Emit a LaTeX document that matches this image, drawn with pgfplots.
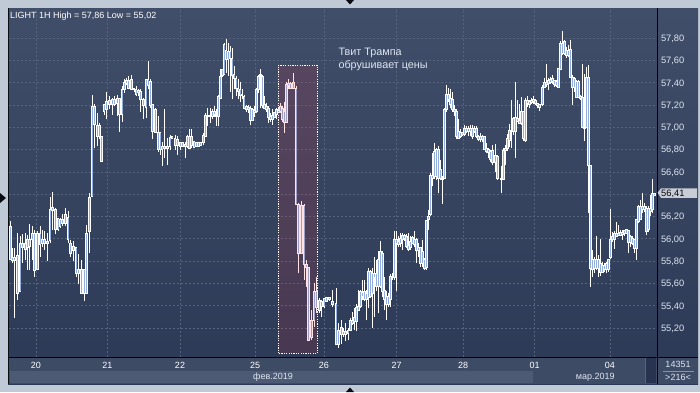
\documentclass[border=0pt]{standalone}
\usepackage{pgfplots}
\pgfplotsset{compat=1.18}
\usepackage{pgfplotstable}
\usepackage{fontspec}
\setmainfont{Liberation Sans}
\definecolor{frame}{HTML}{C0CAD7}
\definecolor{bgtop}{HTML}{414E69}
\definecolor{bgbot}{HTML}{2B3956}
\definecolor{gridc}{HTML}{56637D}
\definecolor{datestrip}{HTML}{3E4B65}
\definecolor{monthA}{HTML}{4C5A74}
\definecolor{bodyc}{HTML}{93AEDB}
\definecolor{labc}{HTML}{DCE5F1}
\definecolor{hl}{RGB}{255,43,47}
\definecolor{pricebox}{HTML}{C8CCD4}
\definecolor{darkbox}{HTML}{283350}

\pgfplotstableread{
x l h bl bh
10.7 55.81 56.16 55.81 56.11
12.7 55.78 55.92 55.80 55.83
14.7 55.29 55.92 55.80 55.83
17.3 55.45 56.05 55.51 55.85
20.0 55.53 56.02 55.53 55.96
22.7 55.78 56.04 55.92 55.96
25.3 55.81 56.05 55.90 55.96
27.3 55.72 56.03 55.92 55.99
29.3 55.72 56.13 55.93 55.99
32.0 55.81 56.11 55.99 56.05
34.7 55.66 56.08 55.71 56.05
37.3 55.72 56.07 55.72 56.05
40.0 55.84 56.11 55.95 56.05
42.7 55.93 56.08 55.96 55.99
44.7 55.90 56.07 55.96 55.99
47.3 55.80 56.05 55.96 55.98
50.0 55.96 56.37 55.98 56.26
52.7 56.08 56.42 56.25 56.28
55.3 56.04 56.28 56.08 56.26
58.0 56.07 56.18 56.08 56.18
60.0 56.10 56.19 56.11 56.17
62.7 56.11 56.22 56.14 56.17
65.3 56.11 56.28 56.14 56.22
68.0 55.96 56.25 55.99 56.19
70.7 55.84 55.99 55.87 55.96
73.3 55.80 55.98 55.89 55.93
76.0 55.66 55.93 55.69 55.92
78.7 55.59 55.86 55.69 55.72
81.3 55.51 55.81 55.51 55.72
84.0 55.44 55.72 55.51 55.72
86.7 55.51 56.12 55.51 56.05
89.3 55.87 56.41 56.06 56.37
92.0 56.37 57.29 56.38 57.19
94.7 56.81 57.21 57.02 57.19
97.3 56.83 57.13 56.92 57.02
99.5 56.89 57.04 56.92 57.02
101.5 56.69 56.92 56.69 56.92
104.0 57.11 57.20 57.14 57.20
106.7 57.07 57.32 57.16 57.23
109.3 57.16 57.28 57.20 57.24
112.0 57.11 57.26 57.20 57.25
114.7 57.19 57.28 57.20 57.25
117.3 57.10 57.29 57.21 57.26
119.3 56.96 57.26 57.11 57.26
122.0 57.05 57.37 57.11 57.34
124.7 57.31 57.43 57.34 57.40
126.7 57.38 57.44 57.39 57.42
128.7 57.34 57.46 57.35 57.42
131.3 57.34 57.47 57.34 57.43
134.0 57.32 57.35 57.34 57.35
136.0 57.28 57.37 57.29 57.34
138.7 57.28 57.34 57.31 57.33
140.7 57.14 57.34 57.25 57.32
143.3 57.07 57.26 57.19 57.25
146.0 57.08 57.43 57.18 57.43
148.0 57.34 57.59 57.37 57.43
150.7 57.17 57.43 57.19 57.41
152.7 56.89 57.20 56.96 57.20
155.3 56.95 57.17 56.95 57.16
158.0 56.78 57.10 56.80 56.95
160.0 56.75 56.96 56.80 56.95
162.0 56.65 56.87 56.80 56.83
164.7 56.72 57.16 56.81 56.83
167.3 56.66 56.90 56.81 56.83
170.0 56.80 56.93 56.83 56.91
172.0 56.89 56.92 56.90 56.92
175.0 56.80 56.93 56.84 56.90
177.3 56.75 56.92 56.84 56.89
180.0 56.80 56.86 56.83 56.86
182.7 56.82 56.86 56.83 56.86
185.0 56.72 56.87 56.83 56.85
187.3 56.81 56.93 56.83 56.92
189.3 56.81 56.98 56.81 56.92
191.3 56.81 56.98 56.84 56.92
194.0 56.81 56.87 56.82 56.87
196.0 56.82 56.86 56.83 56.86
198.7 56.83 56.86 56.83 56.86
200.7 56.84 56.86 56.84 56.86
203.3 56.84 56.95 56.86 56.93
205.3 56.91 57.13 56.92 57.11
207.3 57.01 57.17 57.10 57.11
210.0 57.04 57.17 57.10 57.11
212.7 57.07 57.16 57.10 57.14
214.7 57.09 57.19 57.11 57.14
216.7 57.01 57.16 57.10 57.11
218.7 57.01 57.29 57.10 57.28
220.7 57.26 57.52 57.26 57.46
222.7 57.45 57.52 57.46 57.52
224.0 57.47 57.76 57.47 57.74
226.0 57.49 57.79 57.61 57.69
228.0 57.46 57.76 57.61 57.68
230.0 57.32 57.73 57.62 57.68
232.0 57.25 57.71 57.46 57.62
234.0 57.34 57.55 57.44 57.47
236.0 57.28 57.46 57.35 57.44
238.0 57.25 57.43 57.32 57.35
240.0 57.23 57.41 57.28 57.34
242.0 57.25 57.34 57.28 57.29
244.0 57.16 57.29 57.17 57.28
246.7 57.14 57.20 57.16 57.19
248.7 57.13 57.20 57.16 57.18
250.7 57.02 57.19 57.06 57.17
252.7 57.06 57.17 57.06 57.16
254.7 57.09 57.19 57.13 57.15
256.7 57.13 57.35 57.14 57.34
258.7 57.31 57.47 57.34 57.46
260.7 57.17 57.52 57.46 57.47
262.7 57.17 57.47 57.19 57.46
264.7 57.16 57.28 57.17 57.20
266.7 57.14 57.22 57.16 57.19
268.7 57.04 57.19 57.09 57.17
270.7 57.05 57.13 57.07 57.10
272.7 57.02 57.16 57.07 57.11
274.7 57.08 57.14 57.09 57.13
276.7 57.07 57.17 57.11 57.16
278.7 57.13 57.17 57.13 57.16
280.7 57.13 57.22 57.14 57.19
282.7 57.05 57.19 57.07 57.17
284.7 56.95 57.23 57.04 57.14
286.7 57.04 57.41 57.04 57.38
288.7 57.34 57.43 57.37 57.39
290.7 57.34 57.41 57.35 57.39
293.3 57.34 57.49 57.35 57.40
296.0 56.31 57.37 56.31 57.35
298.7 55.69 56.32 55.87 56.31
301.3 55.87 56.34 55.87 56.30
304.0 55.63 56.31 55.77 56.30
306.7 55.57 55.81 55.74 55.77
308.7 55.08 55.75 55.09 55.74
311.3 55.09 55.36 55.11 55.27
314.0 55.21 55.60 55.27 55.53
316.7 55.33 55.66 55.38 55.53
319.3 55.33 55.47 55.36 55.45
321.7 55.30 55.45 55.39 55.44
324.0 55.38 55.47 55.39 55.46
326.7 55.43 55.48 55.44 55.47
329.3 55.44 55.48 55.45 55.47
332.7 55.39 55.54 55.41 55.44
336.0 55.05 55.56 55.05 55.42
338.7 55.02 55.24 55.05 55.18
341.3 55.06 55.27 55.14 55.20
343.3 55.12 55.20 55.14 55.17
345.3 55.08 55.24 55.14 55.17
348.0 55.09 55.20 55.15 55.18
350.7 55.17 55.29 55.18 55.27
352.7 55.23 55.34 55.24 55.27
354.7 55.18 55.38 55.26 55.29
356.7 55.17 55.41 55.26 55.38
358.7 55.36 55.54 55.36 55.39
360.7 55.38 55.54 55.39 55.53
362.7 55.45 55.63 55.48 55.52
364.7 55.44 55.63 55.45 55.53
366.7 55.27 55.54 55.45 55.51
368.7 55.38 55.74 55.47 55.71
370.7 55.47 55.72 55.48 55.71
372.7 55.20 55.74 55.51 55.69
374.7 55.30 55.84 55.65 55.69
376.7 55.53 55.81 55.57 55.69
378.7 55.33 55.89 55.57 55.81
380.7 55.56 55.98 55.57 55.89
382.7 55.48 55.89 55.53 55.87
384.7 55.36 55.66 55.45 55.54
386.7 55.27 55.53 55.41 55.48
388.7 55.39 55.51 55.41 55.48
390.7 55.39 55.68 55.45 55.66
392.7 55.63 55.69 55.65 55.66
394.7 55.63 56.07 55.65 55.99
396.7 55.53 56.07 55.96 55.99
398.7 55.93 56.02 55.95 55.98
400.7 55.93 56.05 55.96 56.00
402.7 55.90 56.05 55.99 56.03
404.7 55.98 56.04 56.00 56.03
406.7 55.92 56.04 55.93 56.02
408.7 55.89 56.05 55.90 55.94
410.7 55.90 56.02 55.92 55.98
412.7 55.95 56.02 55.96 56.01
414.7 55.93 56.07 55.95 55.99
416.7 55.78 56.01 55.89 55.99
418.7 55.84 55.96 55.89 55.92
420.7 55.75 55.93 55.78 55.92
422.7 55.75 55.99 55.78 55.89
424.7 55.72 55.83 55.73 55.81
426.7 55.72 56.17 55.74 56.16
428.7 56.08 56.26 56.17 56.20
430.7 56.20 56.59 56.22 56.57
432.7 56.47 56.77 56.54 56.57
434.7 56.54 56.86 56.56 56.78
436.7 56.53 56.81 56.56 56.80
438.7 56.41 56.83 56.54 56.80
440.7 56.53 56.71 56.54 56.62
442.7 56.31 56.56 56.53 56.54
444.7 56.54 57.17 56.54 57.16
446.7 57.14 57.38 57.16 57.29
448.7 57.23 57.35 57.25 57.29
450.7 57.17 57.34 57.20 57.26
452.7 57.14 57.32 57.16 57.25
454.7 57.10 57.20 57.14 57.16
456.7 56.89 57.16 56.92 57.14
458.7 56.89 57.07 56.90 56.96
460.7 56.90 56.98 56.92 56.95
462.7 56.92 56.96 56.93 56.95
464.7 56.92 57.02 56.93 56.99
466.7 56.95 57.01 56.96 56.99
468.7 56.92 57.01 56.96 56.99
470.7 56.92 57.02 56.96 56.99
472.7 56.89 57.02 56.92 56.99
474.7 56.95 57.01 56.96 56.99
476.7 56.90 57.01 56.92 56.99
478.7 56.88 56.93 56.89 56.92
480.7 56.87 56.95 56.89 56.92
482.7 56.87 56.93 56.89 56.92
484.7 56.80 56.92 56.80 56.92
486.7 56.77 56.86 56.78 56.81
488.7 56.72 56.81 56.77 56.80
490.7 56.69 56.80 56.71 56.78
492.7 56.66 56.84 56.68 56.79
495.3 56.60 56.85 56.68 56.75
497.3 56.53 56.75 56.54 56.74
501.3 56.41 56.65 56.53 56.54
503.3 56.53 56.81 56.53 56.79
505.3 56.66 56.84 56.79 56.81
507.3 56.79 56.94 56.81 56.90
509.3 56.82 57.03 56.88 56.97
511.3 56.81 57.24 56.96 56.97
513.3 56.93 57.09 56.96 57.08
515.3 56.72 57.41 56.96 57.09
517.3 57.05 57.24 57.05 57.08
519.3 57.03 57.21 57.03 57.06
521.3 57.02 57.27 57.03 57.14
523.3 56.88 57.15 56.90 57.14
525.3 56.87 57.26 56.88 57.24
527.3 57.18 57.28 57.21 57.24
529.3 57.17 57.24 57.20 57.23
531.3 57.21 57.26 57.22 57.24
533.3 57.21 57.28 57.23 57.25
535.3 57.20 57.25 57.21 57.24
537.3 57.17 57.22 57.19 57.21
539.3 57.15 57.21 57.18 57.20
542.3 57.19 57.38 57.20 57.36
544.3 57.35 57.44 57.36 57.40
546.3 57.36 57.57 57.38 57.40
548.3 57.33 57.44 57.39 57.42
550.3 57.39 57.45 57.40 57.43
552.3 57.39 57.47 57.41 57.44
554.3 57.36 57.42 57.38 57.42
556.3 57.36 57.42 57.37 57.41
558.3 57.36 57.53 57.36 57.53
560.3 57.51 57.77 57.52 57.75
562.3 57.65 57.86 57.66 57.75
564.3 57.65 57.78 57.66 57.77
566.3 57.62 57.72 57.64 57.69
568.3 57.63 57.74 57.64 57.69
570.3 57.44 57.78 57.45 57.70
572.3 57.20 57.47 57.36 57.45
574.3 57.32 57.45 57.36 57.44
576.3 57.27 57.42 57.27 57.41
578.3 57.26 57.42 57.27 57.41
580.3 57.24 57.29 57.26 57.28
582.3 57.00 57.57 57.00 57.27
584.3 56.88 57.48 56.99 57.00
586.3 56.99 57.54 57.00 57.45
588.3 56.23 57.56 56.66 57.45
590.3 55.57 56.66 55.73 56.66
592.3 55.66 55.90 55.72 55.81
594.3 55.69 55.84 55.73 55.81
596.3 55.72 56.02 55.73 55.81
598.3 55.66 55.85 55.73 55.81
600.3 55.67 56.00 55.70 55.78
602.3 55.69 55.79 55.70 55.76
604.3 55.70 55.78 55.72 55.76
606.3 55.69 55.79 55.72 55.78
608.3 55.70 55.82 55.72 55.81
610.3 55.82 56.27 55.83 55.99
612.3 55.97 56.06 55.99 56.02
614.3 55.91 56.07 55.99 56.05
616.3 56.02 56.15 56.02 56.05
618.3 56.02 56.12 56.03 56.05
620.3 56.02 56.08 56.03 56.06
622.3 55.99 56.08 56.04 56.06
624.3 56.02 56.08 56.05 56.07
626.3 56.05 56.08 56.05 56.08
628.3 55.87 56.08 55.97 56.07
630.3 55.93 56.03 55.97 56.02
632.3 55.94 56.02 55.96 56.00
634.3 55.87 56.00 55.91 55.99
636.3 55.81 56.18 55.91 56.17
638.3 56.14 56.30 56.15 56.29
640.3 56.17 56.35 56.17 56.29
642.3 56.23 56.41 56.26 56.29
644.3 56.24 56.32 56.26 56.29
646.3 56.03 56.29 56.06 56.27
648.3 56.06 56.29 56.08 56.27
650.3 56.20 56.39 56.24 56.27
652.3 56.23 56.54 56.26 56.41
654.3 56.39 56.41 56.39 56.41
}\candles

\begin{document}
\begin{tikzpicture}[x=1pt,y=1pt]
\useasboundingbox (0,0) rectangle (700,392);
\fill[frame] (0,0) rectangle (700,392);
\shade[top color=bgtop, bottom color=bgbot] (8,8) rectangle (698,383.5);
\fill[datestrip] (8,8) rectangle (657,35);
\fill[monthA] (10,9) rectangle (533,21.3);
\fill[datestrip] (657,8) rectangle (698,35);
\fill[darkbox] (646,9) rectangle (656,34);
\draw[gridc, line width=0.6pt] (645,9) -- (645,34);
% markers
\fill[black!80!bgbot] (0,199) -- (6,194) -- (0,189) -- cycle;
\fill[black!80!bgbot] (346,392) -- (354,392) -- (350,387.5) -- cycle;
\fill[black!80!bgbot] (346,0) -- (354,0) -- (350,4.5) -- cycle;

\begin{axis}[
  at={(9pt,35pt)}, anchor=south west, scale only axis,
  width=648pt, height=348.5pt,
  xmin=9, xmax=657, ymin=54.939, ymax=58.065,
  axis line style={draw=none},
  tick style={draw=none},
  xtick={35.8,107.3,180,255.2,323.8,396.5,463,534.7,609.8},
  xticklabels={20,21,22,25,26,27,28,01,04},
  xticklabel style={font=\fontsize{9}{10}\selectfont, text=white, yshift=-1.2pt},
  ytick={55.2,55.4,55.6,55.8,56.0,56.2,56.4,56.6,56.8,57.0,57.2,57.4,57.6,57.8},
  yticklabel pos=right,
  yticklabel style={font=\fontsize{9.3}{10}\selectfont, text=labc, anchor=west, xshift=0.5pt, yshift=-0.8pt,
    /pgf/number format/.cd, fixed, fixed zerofill, precision=2, use comma, assume math mode=true},
  xmajorgrids, ymajorgrids,
  major grid style={gridc, line width=0.6pt, dash pattern=on 2pt off 2pt},
]
% wicks
\addplot[draw=none, mark=none, forget plot,
  error bars/.cd, y dir=plus, y explicit, error mark=none,
  error bar style={draw=white, solid, line width=0.9pt}]
  table[x=x, y=l, y error plus expr=\thisrow{h}-\thisrow{l}] {\candles};
% body outline
\addplot[draw=none, mark=none, forget plot,
  error bars/.cd, y dir=plus, y explicit, error mark=none,
  error bar style={draw=white, solid, line width=2.6pt}]
  table[x=x, y expr=\thisrow{bl}-0.004, y error plus expr=\thisrow{bh}-\thisrow{bl}+0.008] {\candles};
% body fill
\addplot[draw=none, mark=none, forget plot,
  error bars/.cd, y dir=plus, y explicit, error mark=none,
  error bar style={draw=bodyc, solid, line width=0.9pt}]
  table[x=x, y expr=\thisrow{bl}+0.005, y error plus expr={max(\thisrow{bh}-\thisrow{bl}-0.01,0)}] {\candles};
\end{axis}

% frame lines
\draw[black!75!bgbot, line width=1pt] (8.5,8) -- (8.5,383.5);
\draw[black, line width=1pt] (657,8) -- (657,383.5);
\draw[black, line width=1pt] (8,35) -- (698,35);

% highlight box
\fill[hl, fill opacity=0.13] (278.3,38.7) rectangle (317.3,327);
\draw[white, line width=0.7pt, dash pattern=on 1.2pt off 1.2pt] (278.3,38.7) rectangle (317.3,327);

% texts
\node[anchor=base west, inner sep=0pt, text=white, font=\fontsize{9}{10}\selectfont] at (10,373.8) {LIGHT 1H High = 57,86 Low = 55,02};
\node[anchor=base west, inner sep=0pt, text=labc, font=\fontsize{10.8}{12}\selectfont] at (338.3,336.2) {Твит Трампа};
\node[anchor=base west, inner sep=0pt, text=labc, font=\fontsize{10.8}{12}\selectfont] at (338.3,324.0) {обрушивает цены};
\node[anchor=base, inner sep=0pt, text=labc, font=\fontsize{9}{10}\selectfont] at (273,12.6) {фев.2019};
\node[anchor=base, inner sep=0pt, text=labc, font=\fontsize{9}{10}\selectfont] at (595.3,12.6) {мар.2019};

% price box
\fill[pricebox] (657.5,199.2) -- (661,203.7) -- (697,203.7) -- (697,194.2) -- (661,194.2) -- cycle;
\node[anchor=base west, inner sep=0pt, text=black!85!bgbot, font=\fontsize{9.3}{10}\selectfont] at (661,195.6) {56,41};

% bottom right counters
\node[anchor=base, inner sep=0pt, text=labc, font=\fontsize{9}{10}\selectfont] at (678,24.3) {14351};
\draw[gridc!70!white, line width=0.6pt] (663,20.3) -- (694,20.3);
\node[anchor=base, inner sep=0pt, text=labc, font=\fontsize{9}{10}\selectfont] at (678,11.3) {>216<};
\end{tikzpicture}
\end{document}
